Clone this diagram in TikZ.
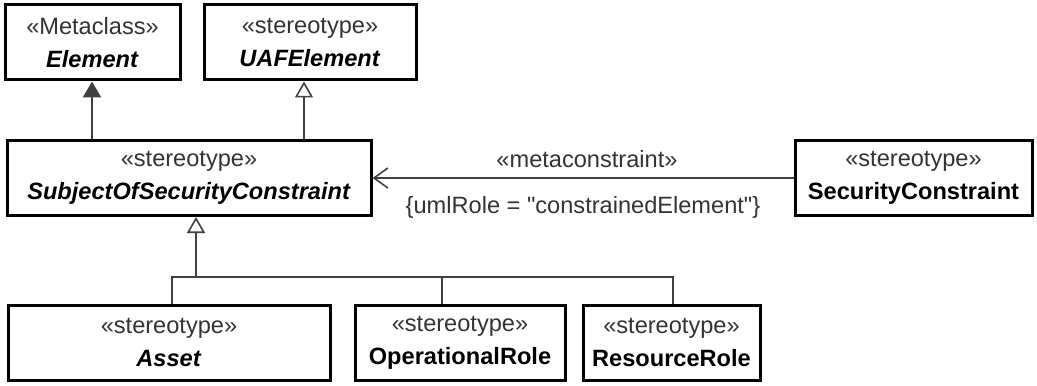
\documentclass[tikz,border=0pt]{standalone}
\usepackage{fontspec}
\setmainfont{Liberation Sans}
\usepackage{xcolor}
\usetikzlibrary{arrows.meta,positioning}

\begin{document}
\begin{tikzpicture}[x=0.5pt, y=-0.5pt,
        box/.style={draw, line width=1.5pt, minimum height=37.5pt, inner sep=0pt,
                    align=center, font=\fontsize{11.8}{16.5}\selectfont},
        line/.style={draw=black!75, line width=1.2pt},
        lbl/.style={font=\fontsize{11.8}{13}\selectfont, text=black!80},
        gen/.style={line, -{Triangle[open, length=8pt, width=9pt, line width=0.8pt]}},
        ext/.style={line, -{Triangle[length=8pt, width=9pt]}},
        meta/.style={line, -{Straight Barb[length=7pt, width=10pt, line width=0.8pt]}},
    ]
        \useasboundingbox (0,0) rectangle (1037,385);

        % Row 1: metaclass and UAF root
        \node[box, minimum width=87.5pt] (elem) at (92.5,42.5)
            {{\color{black!80}«Metaclass»}\\\textbf{\textit{Element}}};
        \node[box, minimum width=106pt]  (uaf)  at (310,42.5)
            {{\color{black!80}«stereotype»}\\\textbf{\textit{UAFElement}}};

        % Row 2: subject and constraint
        \node[box, minimum width=182pt]  (sosc) at (189,178)
            {{\color{black!80}«stereotype»}\\\textbf{\textit{SubjectOfSecurityConstraint}}};
        \node[box, minimum width=118.5pt] (secc) at (913.5,178)
            {{\color{black!80}«stereotype»}\\\textbf{SecurityConstraint}};

        % Row 3: specialisations
        \node[box, minimum width=161pt]  (asset)   at (169,342.5)
            {{\color{black!80}«stereotype»}\\\textbf{\textit{Asset}}};
        \node[box, minimum width=105pt]  (oprole)  at (460,342.5)
            {{\color{black!80}«stereotype»}\\\textbf{OperationalRole}};
        \node[box, minimum width=88.5pt] (resrole) at (671.5,342.5)
            {{\color{black!80}«stereotype»}\\\textbf{ResourceRole}};

        % Generalisations upwards
        \draw[ext] ([xshift=-0.25pt]elem.south |- sosc.north) -- ([xshift=-0.25pt]elem.south);
        \draw[gen] ([xshift=-3pt]uaf.south |- sosc.north) -- ([xshift=-3pt]uaf.south);

        % Metaconstraint
        \draw[meta] (secc.west) -- node[lbl, above=1pt, xshift=2pt]{«metaconstraint»}
            node[lbl, below=5.5pt]{\{umlRole = \textquotedbl constrainedElement\textquotedbl\}} (sosc.east);

        % Tree from the three stereotypes
        \coordinate (junc) at (196,277);
        \draw[gen] (junc) -- (junc |- sosc.south);
        \draw[line] ([xshift=1.5pt]asset.north) -- ([xshift=1.5pt]asset.north |- junc)
            -- ([xshift=0.75pt]resrole.north |- junc) -- ([xshift=0.75pt]resrole.north);
        \draw[line] ([xshift=-9pt]oprole.north) -- ([xshift=-9pt]oprole.north |- junc);
    \end{tikzpicture}
\end{document}
